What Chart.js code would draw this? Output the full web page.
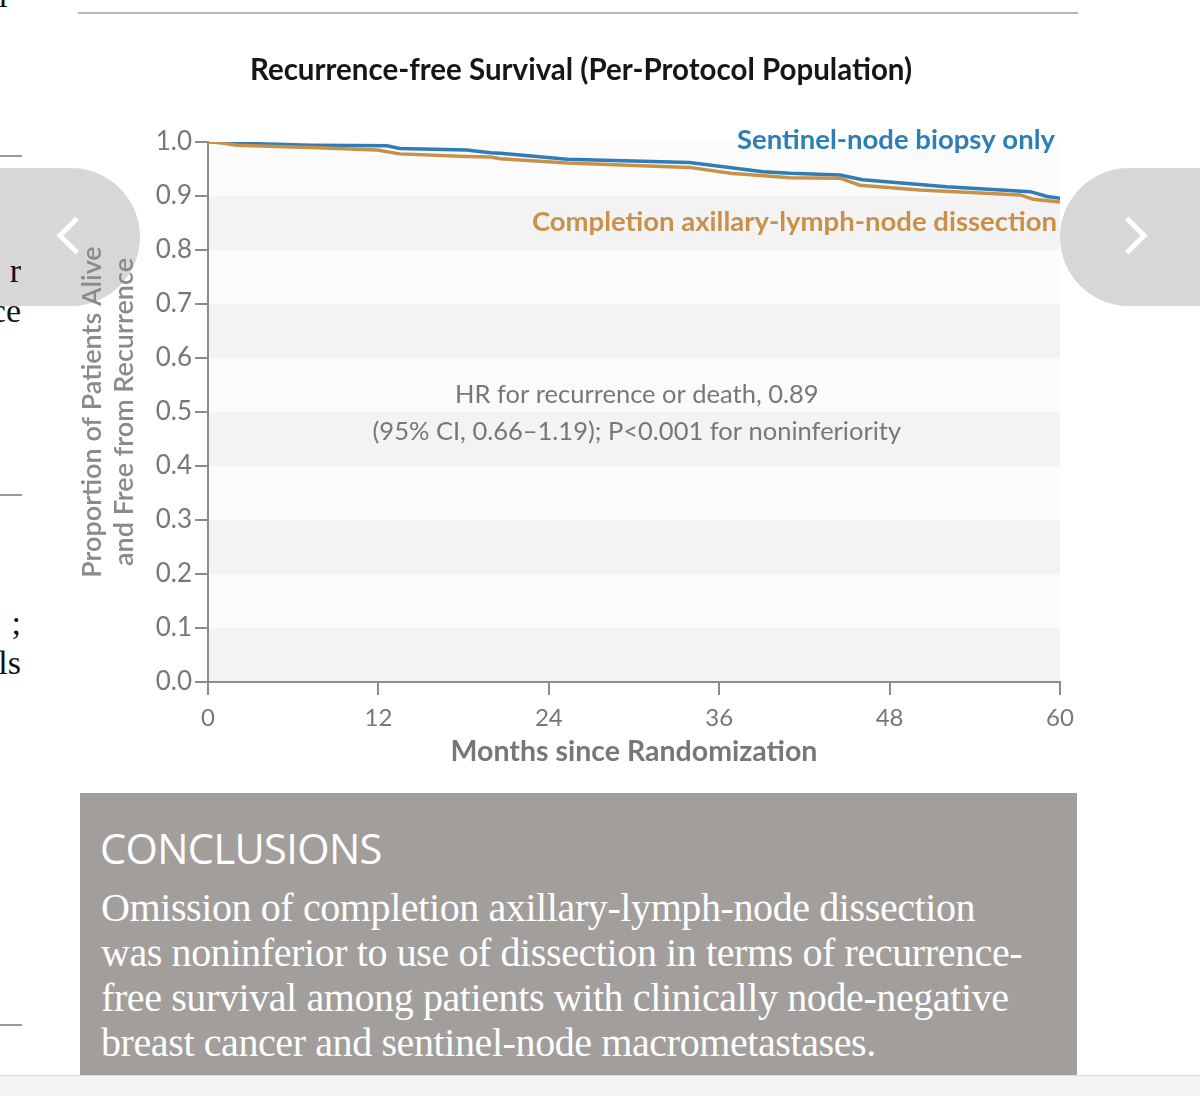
<!DOCTYPE html>
<html>
<head>
<meta charset="utf-8">
<script src="https://cdn.jsdelivr.net/npm/chart.js@4.4.1/dist/chart.umd.min.js"></script>
<style>
  html, body { margin: 0; padding: 0; background: #fff; }
  #page { position: relative; width: 1200px; height: 1096px; overflow: hidden; background: #fff; }
  .frag { position: absolute; left: 0; width: 21px; display: flex; justify-content: flex-end; overflow: hidden; white-space: nowrap;
          font-family: "Liberation Serif", serif; font-size: 34px; color: #111; line-height: 1; }
  .rule { position: absolute; background: #9a9a9a; height: 2px; }
  .nav { position: absolute; top: 168px; height: 138px; background: #d7d7d7; border-radius: 69px; }
  .chev { position: absolute; top: 54px; width: 22px; height: 22px; border-color: #fff; border-style: solid; border-width: 0; }
  #chartBox { position: absolute; left: 60px; top: 0; width: 1020px; height: 790px; }
  #concl { position: absolute; left: 80px; top: 793px; width: 997px; height: 282px; background: #a19e9c; color: #fff; }
  #concl h2 { margin: 0; position: absolute; left: 20px; top: 27px; font-family: "Open Sans", sans-serif; font-weight: 400;
              font-size: 41.5px; letter-spacing: -0.6px; }
  #concl p { margin: 0; position: absolute; left: 21px; top: 92px; white-space: nowrap; font-family: "Liberation Serif", serif;
             font-size: 40px; line-height: 45px; letter-spacing: -0.4px; }
  #footer { position: absolute; left: 0; top: 1075px; width: 1200px; height: 21px; background: #f3f3f3; border-top: 1px solid #dcdcdc; }
</style>
</head>
<body>
<div id="page">
  <div class="frag" style="top:-21px;">r-</div>
  <div class="rule" style="left:78px; top:12px; width:1000px; background:#b8b8b8;"></div>

  <div class="rule" style="left:0; top:155px; width:22px;"></div>
  <div class="rule" style="left:0; top:494px; width:22px;"></div>
  <div class="rule" style="left:0; top:1024px; width:22px;"></div>

  <div class="nav" style="left:-62px; width:202px;">
    <div class="chev" style="left:124px; border-left-width:5px; border-bottom-width:5px; transform: rotate(45deg);"></div>
  </div>
  <div class="nav" style="left:1060px; width:220px;">
    <div class="chev" style="left:55px; border-right-width:5px; border-top-width:5px; transform: rotate(45deg);"></div>
  </div>

  <div class="frag" style="top:254px;">r</div>
  <div class="frag" style="top:294px;">ce</div>
  <div class="frag" style="top:606px;">;</div>
  <div class="frag" style="top:646px;">ls</div>

  <div id="chartBox"><canvas id="km" width="1020" height="790"></canvas></div>

  <div id="concl">
    <h2>CONCLUSIONS</h2>
    <p>Omission of completion axillary-lymph-node dissection<br>was noninferior to use of dissection in terms of recurrence-<br>free survival among patients with clinically node-negative<br>breast cancer and sentinel-node macrometastases.</p>
  </div>
  <div id="footer"></div>
</div>

<script>
// ---- data ----
const xTicks = [0, 12, 24, 36, 48, 60];
const yTicks = [0, 0.1, 0.2, 0.3, 0.4, 0.5, 0.6, 0.7, 0.8, 0.9, 1.0];

// Sentinel-node biopsy only
const snbMonths = [0, 0.1, 1.8, 7.2, 12.6, 13.5, 18.2, 19.9, 20.6, 25.3, 33.9, 39.1, 41.0, 44.5, 46.1, 52.0, 57.9, 59.1, 60];
const snbSurv   = [1.000, 1.000, 0.998, 0.994, 0.993, 0.988, 0.985, 0.980, 0.979, 0.968, 0.962, 0.945, 0.942, 0.939, 0.930, 0.917, 0.908, 0.899, 0.896];

// Completion axillary-lymph-node dissection
const alndMonths = [0, 0.8, 2.0, 7.2, 11.9, 13.5, 18.2, 19.9, 20.6, 25.3, 33.9, 36.8, 41.0, 44.5, 45.9, 50.1, 57.2, 58.1, 60];
const alndSurv   = [1.000, 0.999, 0.994, 0.990, 0.985, 0.978, 0.973, 0.972, 0.969, 0.961, 0.953, 0.942, 0.934, 0.933, 0.920, 0.911, 0.902, 0.894, 0.889];

const seriesLabels = ['Sentinel-node biopsy only', 'Completion axillary-lymph-node dissection'];
const seriesColors = ['#2f7db6', '#c99049'];

const chartTitle = 'Recurrence-free Survival (Per-Protocol Population)';
const hrText = ['HR for recurrence or death, 0.89', '(95% CI, 0.66\u20131.19); P<0.001 for noninferiority'];

function pairs(xs, ys) {
  return xs.map((x, i) => ({ x: x, y: ys[i] }));
}

const axisGray = '#8c8c8c';
const textGray = '#777777';

// alternating horizontal bands behind the curves
const bandsPlugin = {
  id: 'bands',
  beforeDraw(chart) {
    const { ctx, chartArea, scales } = chart;
    ctx.save();
    for (let i = 0; i < yTicks.length - 1; i++) {
      const y1 = scales.y.getPixelForValue(yTicks[i + 1]);
      const y0 = scales.y.getPixelForValue(yTicks[i]);
      ctx.fillStyle = i % 2 === 0 ? '#f3f3f3' : '#fbfbfb';
      ctx.fillRect(chartArea.left, y1, chartArea.right - chartArea.left, y0 - y1);
    }
    ctx.restore();
  }
};

// title, curve labels and HR note
const labelsPlugin = {
  id: 'labels',
  afterDatasetsDraw(chart) {
    const { ctx, chartArea, scales } = chart;
    ctx.save();
    ctx.textBaseline = 'middle';

    ctx.fillStyle = '#161616';
    ctx.font = 'bold 29.5px Lato, sans-serif';
    ctx.textAlign = 'center';
    ctx.fillText(chartTitle, 521, 70);

    ctx.textAlign = 'right';
    ctx.font = 'bold 27.5px Lato, sans-serif';
    ctx.fillStyle = seriesColors[0];
    ctx.fillText(seriesLabels[0], chartArea.right - 5, scales.y.getPixelForValue(1.004));
    ctx.fillStyle = seriesColors[1];
    ctx.fillText(seriesLabels[1], chartArea.right - 3, scales.y.getPixelForValue(0.852));

    ctx.textAlign = 'center';
    ctx.font = '25.5px Lato, sans-serif';
    ctx.fillStyle = textGray;
    const cx = scales.x.getPixelForValue(30.2);
    ctx.fillText(hrText[0], cx, scales.y.getPixelForValue(0.531));
    ctx.fillText(hrText[1], cx, scales.y.getPixelForValue(0.464));
    ctx.restore();
  }
};

const ctx = document.getElementById('km').getContext('2d');

new Chart(ctx, {
  type: 'line',
  data: {
    datasets: [
      {
        label: seriesLabels[1],
        data: pairs(alndMonths, alndSurv),
        borderColor: seriesColors[1],
        borderWidth: 3.5,
        pointRadius: 0,
        tension: 0,
        fill: false
      },
      {
        label: seriesLabels[0],
        data: pairs(snbMonths, snbSurv),
        borderColor: seriesColors[0],
        borderWidth: 3.5,
        pointRadius: 0,
        tension: 0,
        fill: false
      }
    ]
  },
  options: {
    responsive: false,
    animation: false,
    layout: { padding: { left: 0, right: 20, top: 142, bottom: 0 } },
    plugins: {
      legend: { display: false },
      tooltip: { enabled: false }
    },
    scales: {
      x: {
        type: 'linear',
        min: 0,
        max: 60,
        afterBuildTicks: s => { s.ticks = xTicks.map(v => ({ value: v })); },
        afterFit: s => { s.height = 108; s.paddingLeft = 0; s.paddingRight = 0; },
        ticks: { color: textGray, font: { family: 'Lato', size: 24 }, padding: 9 },
        grid: { drawOnChartArea: false, drawTicks: true, tickLength: 13, color: axisGray, lineWidth: 2 },
        border: { color: axisGray, width: 2 },
        title: {
          display: true,
          text: 'Months since Randomization',
          color: textGray,
          font: { family: 'Lato', size: 28.5, weight: 'bold' },
          padding: { top: 0, bottom: 21 }
        }
      },
      y: {
        min: 0,
        max: 1,
        afterBuildTicks: s => { s.ticks = yTicks.map(v => ({ value: v })); },
        afterFit: s => { s.width = 148; },
        ticks: { color: textGray, font: { family: 'Lato', size: 26 }, padding: 3, callback: v => v.toFixed(1) },
        grid: { drawOnChartArea: false, drawTicks: true, tickLength: 13, color: axisGray, lineWidth: 2 },
        border: { color: axisGray, width: 2 },
        title: {
          display: true,
          text: ['Proportion of Patients Alive', 'and Free from Recurrence'],
          color: '#8a8a8a',
          font: { family: 'Lato', size: 27, weight: '600', lineHeight: 1.185 },
          padding: { top: 16, bottom: 0 }
        }
      }
    }
  },
  plugins: [bandsPlugin, labelsPlugin]
});
</script>
</body>
</html>
